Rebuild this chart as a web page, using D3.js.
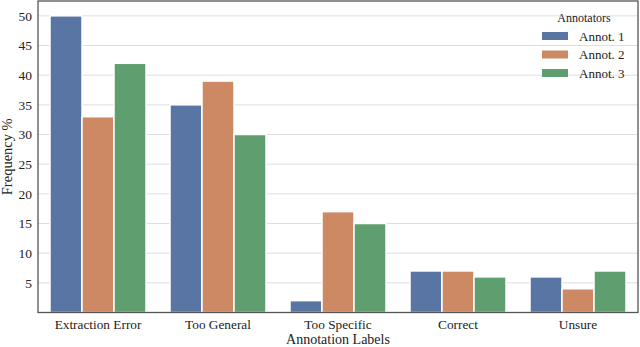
<!DOCTYPE html>
<html><head><meta charset="utf-8">
<script src="https://cdn.jsdelivr.net/npm/d3@7"></script>
<style>body{margin:0;background:#fff}svg{display:block}</style>
</head><body>
<svg id="c" width="640" height="347"></svg>
<script>
const categories = ["Extraction Error","Too General","Too Specific","Correct","Unsure"];
const seriesNames = ["Annot. 1","Annot. 2","Annot. 3"];
const annot1 = [50,35,2,7,6];
const annot2 = [33,39,17,7,4];
const annot3 = [42,30,15,6,7];
const yTicks = [5,10,15,20,25,30,35,40,45,50];
const colors = ["#5975a4","#cc8963","#5f9e6e"];
const FONT = "'Liberation Serif', 'Times New Roman', Times, serif";

const series = [annot1, annot2, annot3];
const svg = d3.select("#c").attr("font-family", FONT);
const L=38, R=638, T=1, B=312.5;
const x = d3.scaleBand().domain(categories).range([L,R]).paddingInner(0.2).paddingOuter(0.1);
const xs = d3.scaleBand().domain(seriesNames).range([0,x.bandwidth()]);
const y = d3.scaleLinear().domain([0,52.5]).range([B,T]);

svg.append("g").selectAll("line").data(yTicks).join("line")
  .attr("x1",L).attr("x2",R).attr("y1",d=>y(d)).attr("y2",d=>y(d))
  .attr("stroke","#dedede").attr("stroke-width",1);

categories.forEach((c,i)=>{
  svg.append("g").selectAll("rect").data(series.map((s,j)=>({s:seriesNames[j],v:s[i],j}))).join("rect")
    .attr("x",d=>x(c)+xs(d.s)).attr("width",xs.bandwidth())
    .attr("y",d=>y(d.v)).attr("height",d=>y(0)-y(d.v))
    .attr("fill",d=>colors[d.j]).attr("stroke","#fff").attr("stroke-width",1.5);
});

const ya = svg.append("g").attr("transform",`translate(${L},0)`).call(d3.axisLeft(y).tickValues(yTicks).tickSize(0).tickPadding(6));
ya.attr("font-family",FONT).attr("font-size",13.5);
ya.select(".domain").remove();
ya.selectAll("text").attr("fill","#222");

const xa = svg.append("g").attr("transform",`translate(0,${B})`).call(d3.axisBottom(x).tickSize(0).tickPadding(7));
xa.attr("font-family",FONT).attr("font-size",13.3);
xa.select(".domain").remove();
xa.selectAll("text").attr("fill","#222");

svg.append("rect").attr("x",L).attr("y",T).attr("width",R-L).attr("height",B-T)
  .attr("fill","none").attr("stroke","#555").attr("stroke-width",1.3);

svg.append("text").attr("x",(L+R)/2).attr("y",343.5).attr("text-anchor","middle").attr("font-size",14).attr("fill","#222").text("Annotation Labels");
svg.append("text").attr("transform",`translate(12,${(T+B)/2}) rotate(-90)`).attr("text-anchor","middle").attr("font-size",14.5).attr("fill","#222").text("Frequency %");

const lg = svg.append("g");
lg.append("text").attr("x",584).attr("y",22).attr("text-anchor","middle").attr("font-size",12).attr("fill","#222").text("Annotators");
seriesNames.forEach((n,j)=>{
  const cy = 36 + j*18.5;
  lg.append("rect").attr("x",542).attr("y",cy-4).attr("width",26).attr("height",8).attr("fill",colors[j]);
  lg.append("text").attr("x",579).attr("y",cy+4.5).attr("font-size",13).attr("fill","#222").text(n);
});
</script>
</body></html>
